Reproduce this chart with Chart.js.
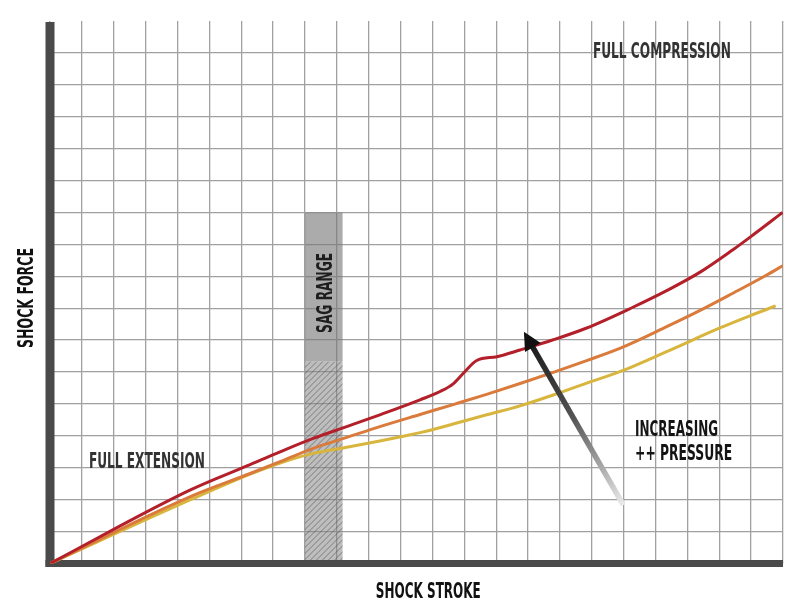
<!DOCTYPE html>
<html lang="en">
<head>
  <meta charset="UTF-8" />
  <title>Shock force vs stroke</title>
  <script src="https://cdn.jsdelivr.net/npm/chart.js"></script>
  <style>
    html, body {
      margin: 0;
      padding: 0;
      background: #ffffff;
    }
    #chart {
      display: block;
    }
  </style>
</head>
<body>
  <canvas id="chart" width="800" height="610"></canvas>

  <script>
    // curves: stroke (x) and force (y) in grid units
    const redStroke = [0, 4.39, 6.28, 7.22, 8.26, 9.31, 10.35, 11.61, 12.24, 12.65, 12.97, 13.39, 14.02, 14.75, 15.79, 16.84, 18.29, 19.35, 20.4, 21.44, 21.96, 22.99];
    const redForce = [0, 2.30, 3.10, 3.50, 3.92, 4.29, 4.66, 5.13, 5.39, 5.63, 5.96, 6.36, 6.48, 6.69, 7.01, 7.38, 8.03, 8.55, 9.13, 9.84, 10.22, 11.0];

    const orangeStroke = [0, 4.39, 6.28, 7.22, 8.26, 9.31, 10.35, 11.61, 12.65, 13.7, 14.75, 15.79, 16.84, 17.88, 19.35, 20.4, 21.43, 22.49, 22.99];
    const orangeForce = [0, 2.09, 2.82, 3.19, 3.61, 3.95, 4.29, 4.67, 4.98, 5.30, 5.64, 5.99, 6.36, 6.74, 7.42, 7.93, 8.47, 9.04, 9.33];

    const yellowStroke = [0, 4.39, 6.28, 7.22, 8.26, 9.31, 10.35, 11.61, 12.65, 13.7, 14.75, 15.79, 16.84, 17.88, 19.35, 21.02, 21.96, 22.77];
    const yellowForce = [0, 1.99, 2.80, 3.15, 3.45, 3.64, 3.84, 4.10, 4.37, 4.66, 4.94, 5.28, 5.65, 6.01, 6.64, 7.38, 7.76, 8.07];

    // sag range band
    const sagRange = [8.0, 9.18];
    const sagTop = 11;
    const hatchTop = 6.33;

    // "increasing pressure" arrow, from tail to tip
    const arrowFrom = [17.99, 1.83];
    const arrowTo = [14.87, 7.26];

    // notes on the grid
    const noteText = ['FULL COMPRESSION', 'FULL EXTENSION', 'INCREASING', '++ PRESSURE'];
    const noteX = [19.2, 3.04, 19.66, 19.88];
    const noteY = [16.07, 3.23, 4.22, 3.48];
    const noteWidth = [138, 116, 83, 97];

    const xTitle = 'SHOCK STROKE';
    const yTitle = 'SHOCK FORCE';
    const sagLabel = 'SAG RANGE';

    const toPoints = (xs, ys) => xs.map((v, i) => ({ x: v, y: ys[i] }));

    function squeezed(ctx, text, cx, cy, cap, width, rot, color) {
      ctx.save();
      ctx.translate(cx, cy);
      if (rot) ctx.rotate(rot);
      ctx.font = 'bold ' + Math.round(cap / 0.72) + 'px "Liberation Sans Narrow", "DejaVu Sans Condensed", "Liberation Sans", sans-serif';
      const w = ctx.measureText(text).width;
      ctx.scale(width / w, 1);
      ctx.fillStyle = color;
      ctx.textAlign = 'center';
      ctx.textBaseline = 'alphabetic';
      ctx.fillText(text, 0, cap / 2);
      ctx.restore();
    }

    const overlay = {
      id: 'overlay',
      beforeDatasetsDraw(chart) {
        const { ctx, chartArea: a, scales: { x, y } } = chart;
        const l = x.getPixelForValue(sagRange[0]);
        const r = x.getPixelForValue(sagRange[1]);
        const t = y.getPixelForValue(sagTop);
        const h = y.getPixelForValue(hatchTop);
        const b = y.getPixelForValue(0);

        ctx.save();
        ctx.fillStyle = 'rgba(120,120,120,0.62)';
        ctx.fillRect(l, t, r - l, h - t);
        ctx.fillStyle = 'rgba(130,130,130,0.52)';
        ctx.fillRect(l, h, r - l, b - h);
        ctx.beginPath();
        ctx.rect(l, h, r - l, b - h);
        ctx.clip();
        ctx.beginPath();
        ctx.strokeStyle = 'rgba(80,80,80,0.6)';
        ctx.lineWidth = 1;
        for (let k = l - (b - h); k < r; k += 6) {
          ctx.moveTo(k, b);
          ctx.lineTo(k + (b - h), h);
        }
        ctx.stroke();
        ctx.restore();

        // heavy axes
        ctx.save();
        ctx.strokeStyle = '#4a4a4a';
        ctx.lineWidth = 9;
        ctx.beginPath();
        ctx.moveTo(a.left, a.top + 1);
        ctx.lineTo(a.left, a.bottom + 3.5);
        ctx.stroke();
        ctx.lineWidth = 7;
        ctx.beginPath();
        ctx.moveTo(a.left - 4.5, a.bottom);
        ctx.lineTo(a.right, a.bottom);
        ctx.stroke();
        ctx.restore();
      },
      afterDatasetsDraw(chart) {
        const { ctx, chartArea: a, scales: { x, y } } = chart;

        // arrow with grey-to-black shaft
        const x0 = x.getPixelForValue(arrowFrom[0]), y0 = y.getPixelForValue(arrowFrom[1]);
        const x1 = x.getPixelForValue(arrowTo[0]), y1 = y.getPixelForValue(arrowTo[1]);
        const ang = Math.atan2(y1 - y0, x1 - x0);
        const headLen = 18, headHalf = 9;
        const bx = x1 - Math.cos(ang) * headLen, by = y1 - Math.sin(ang) * headLen;
        const grad = ctx.createLinearGradient(x0, y0, x1, y1);
        grad.addColorStop(0, 'rgba(235,235,235,1)');
        grad.addColorStop(0.5, '#555');
        grad.addColorStop(1, '#111');
        ctx.save();
        ctx.strokeStyle = grad;
        ctx.lineWidth = 5.5;
        ctx.lineCap = 'butt';
        ctx.beginPath();
        ctx.moveTo(x0, y0);
        ctx.lineTo(bx + Math.cos(ang) * 2, by + Math.sin(ang) * 2);
        ctx.stroke();
        ctx.fillStyle = '#111';
        ctx.beginPath();
        ctx.moveTo(x1, y1);
        ctx.lineTo(bx + Math.sin(ang) * headHalf, by - Math.cos(ang) * headHalf);
        ctx.lineTo(bx - Math.sin(ang) * headHalf, by + Math.cos(ang) * headHalf);
        ctx.closePath();
        ctx.fill();
        ctx.restore();

        // notes
        noteText.forEach((txt, i) => {
          squeezed(ctx, txt, x.getPixelForValue(noteX[i]), y.getPixelForValue(noteY[i]), 15, noteWidth[i], 0, i < 2 ? '#333333' : '#141414');
        });
        squeezed(ctx, sagLabel, x.getPixelForValue((sagRange[0] + sagRange[1]) / 2), y.getPixelForValue(8.48), 16, 80, -Math.PI / 2, '#1e1e1e');

        // axis titles
        squeezed(ctx, xTitle, x.getPixelForValue(11.87), a.bottom + 26.5, 16, 105, 0, '#111111');
        squeezed(ctx, yTitle, 25, y.getPixelForValue(8.32), 16, 100, -Math.PI / 2, '#111111');
      }
    };

    const line = (pts, color) => ({
      data: pts,
      borderColor: color,
      borderWidth: 3,
      pointRadius: 0,
      fill: false,
      cubicInterpolationMode: 'monotone'
    });

    new Chart(document.getElementById('chart'), {
      type: 'line',
      data: {
        datasets: [
          line(toPoints(redStroke, redForce), '#b3202a'),
          line(toPoints(orangeStroke, orangeForce), '#da7b3c'),
          line(toPoints(yellowStroke, yellowForce), '#d8b53d')
        ]
      },
      options: {
        responsive: false,
        animation: false,
        layout: { padding: { left: 50, right: 17, top: 21, bottom: 46.5 } },
        plugins: {
          legend: { display: false },
          tooltip: { enabled: false }
        },
        scales: {
          x: {
            type: 'linear',
            min: 0,
            max: 23,
            ticks: { display: false, stepSize: 1, maxTicksLimit: 100 },
            grid: { color: '#a0a0a0', lineWidth: 1.3, drawTicks: false },
            border: { display: false }
          },
          y: {
            type: 'linear',
            min: 0,
            max: 17,
            ticks: { display: false, stepSize: 1, maxTicksLimit: 100 },
            grid: {
              color: c => (c.tick && c.tick.value === 17 ? 'rgba(0,0,0,0)' : '#a0a0a0'),
              lineWidth: 1.3,
              drawTicks: false
            },
            border: { display: false }
          }
        }
      },
      plugins: [overlay]
    });
  </script>
</body>
</html>
